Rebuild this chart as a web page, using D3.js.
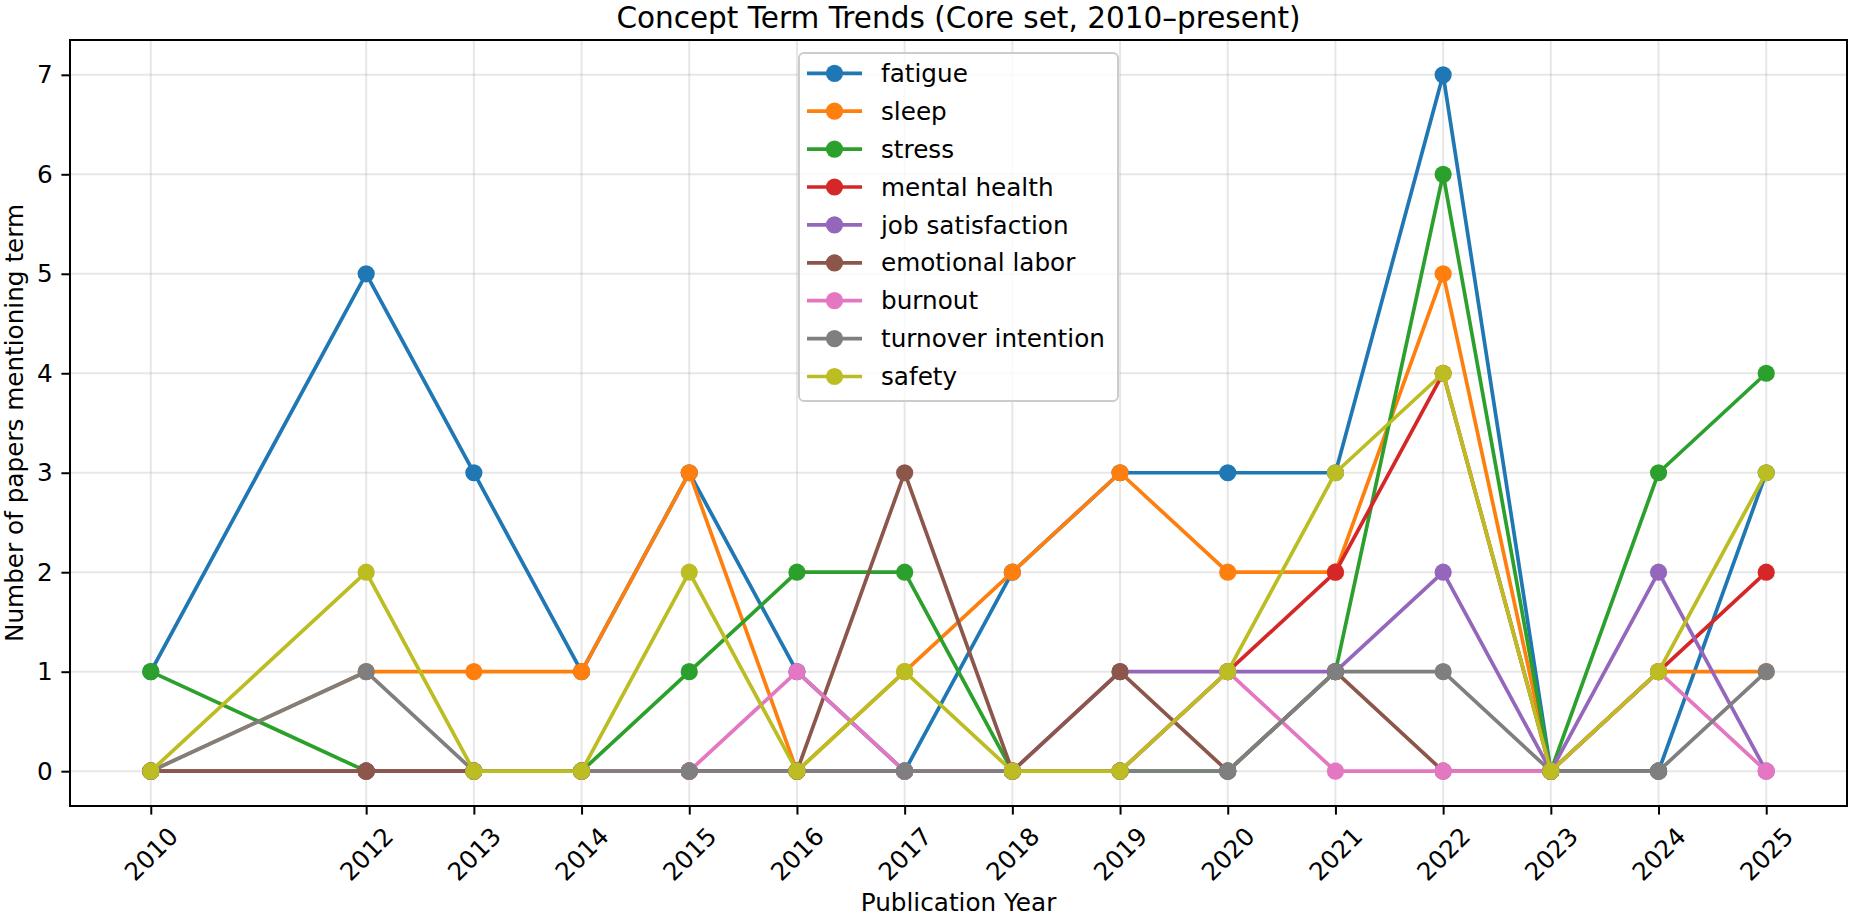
<!DOCTYPE html>
<html>
<head>
<meta charset="utf-8">
<script src="https://cdn.jsdelivr.net/npm/d3@7/dist/d3.min.js"></script>
<style>
  html, body { margin: 0; padding: 0; background: #fff; }
  svg { display: block; font-family: "DejaVu Sans", sans-serif; }
</style>
</head>
<body>
<svg id="chart" width="1851" height="918"></svg>
<script>
// ---- Data ----
const years = [2010, 2012, 2013, 2014, 2015, 2016, 2017, 2018, 2019, 2020, 2021, 2022, 2023, 2024, 2025];
const yTicks = [0, 1, 2, 3, 4, 5, 6, 7];
const seriesNames = ["fatigue", "sleep", "stress", "mental health", "job satisfaction", "emotional labor", "burnout", "turnover intention", "safety"];
const fatigue         = [1, 5, 3, 1, 3, 1, 0, 2, 3, 3, 3, 7, 0, 0, 3];
const sleep           = [0, 1, 1, 1, 3, 0, 1, 2, 3, 2, 2, 5, 0, 1, 1];
const stress          = [1, 0, 0, 0, 1, 2, 2, 0, 0, 0, 1, 6, 0, 3, 4];
const mentalHealth    = [0, 0, 0, 0, 0, 0, 0, 0, 0, 1, 2, 4, 0, 1, 2];
const jobSatisfaction = [0, 0, 0, 0, 0, 0, 0, 0, 1, 1, 1, 2, 0, 2, 0];
const emotionalLabor  = [0, 0, 0, 0, 0, 0, 3, 0, 1, 0, 1, 0, 0, 0, null];
const burnout         = [null, null, 0, 0, 0, 1, 0, 0, 0, 1, 0, 0, 0, 1, 0];
const turnover        = [0, 1, 0, 0, 0, 0, 0, 0, 0, 0, 1, 1, 0, 0, 1];
const safety          = [0, 2, 0, 0, 2, 0, 1, 0, 0, 1, 3, 4, 0, 1, 3];
const seriesValues = [fatigue, sleep, stress, mentalHealth, jobSatisfaction, emotionalLabor, burnout, turnover, safety];
const colors = ["#1f77b4", "#ff7f0e", "#2ca02c", "#d62728", "#9467bd", "#8c564b", "#e377c2", "#7f7f7f", "#bcbd22"];

const title = "Concept Term Trends (Core set, 2010\u2013present)";
const xLabel = "Publication Year";
const yLabel = "Number of papers mentioning term";

// ---- Layout ----
const svg = d3.select("#chart");
const L = 70, R = 1847, T = 40, B = 806;
const fs = 24.7;
const tickLen = 8.6, tickPad = 8.6;

const x = d3.scaleLinear().domain([2009.25, 2025.75]).range([L, R]);
const y = d3.scaleLinear().domain([-0.35, 7.35]).range([B, T]);

// grid
const grid = svg.append("g");
grid.selectAll("line.gx").data(years).enter().append("line")
  .attr("x1", d => x(d)).attr("x2", d => x(d)).attr("y1", T).attr("y2", B)
  .attr("stroke", "#b0b0b0").attr("stroke-opacity", 0.3).attr("stroke-width", 2);
grid.selectAll("line.gy").data(yTicks).enter().append("line")
  .attr("x1", L).attr("x2", R).attr("y1", d => y(d)).attr("y2", d => y(d))
  .attr("stroke", "#b0b0b0").attr("stroke-opacity", 0.3).attr("stroke-width", 2);

// series
svg.append("defs").append("clipPath").attr("id", "clip")
  .append("rect").attr("x", L).attr("y", T).attr("width", R - L).attr("height", B - T);
const plot = svg.append("g").attr("clip-path", "url(#clip)");
const line = d3.line().defined(d => d.v !== null).x(d => x(d.year)).y(d => y(d.v));
seriesValues.forEach((vals, i) => {
  const pts = years.map((yr, j) => ({ year: yr, v: vals[j] }));
  plot.append("path").datum(pts).attr("d", line)
    .attr("fill", "none").attr("stroke", colors[i]).attr("stroke-width", 3.7)
    .attr("stroke-linejoin", "round").attr("stroke-linecap", "square");
  plot.selectAll(null).data(pts.filter(p => p.v !== null)).enter().append("circle")
    .attr("cx", d => x(d.year)).attr("cy", d => y(d.v)).attr("r", 8.6)
    .attr("fill", colors[i]);
});

// axes
const xAxis = d3.axisBottom(x).tickValues(years).tickFormat(d3.format("d"))
  .tickSize(tickLen).tickPadding(tickPad);
const gx = svg.append("g").attr("transform", `translate(0,${B})`).call(xAxis);
gx.select(".domain").remove();
gx.selectAll(".tick line").attr("stroke", "#000").attr("stroke-width", 2);
gx.selectAll(".tick text").attr("font-size", fs).attr("fill", "#000")
  .attr("font-family", "DejaVu Sans")
  .each(function() {
    const t = d3.select(this);
    const w = this.getComputedTextLength();
    const h = fs * 1.0;
    const bb = (w + h) / Math.SQRT2;
    t.attr("y", null).attr("dy", null)
      .attr("text-anchor", "middle").attr("dominant-baseline", "central")
      .attr("transform", `translate(0,${tickLen + tickPad + bb / 2}) rotate(-45)`);
  });

const yAxis = d3.axisLeft(y).tickValues(yTicks).tickFormat(d3.format("d"))
  .tickSize(tickLen).tickPadding(tickPad);
const gy = svg.append("g").attr("transform", `translate(${L},0)`).call(yAxis);
gy.select(".domain").remove();
gy.selectAll(".tick line").attr("stroke", "#000").attr("stroke-width", 2);
gy.selectAll(".tick text").attr("font-size", fs).attr("fill", "#000")
  .attr("font-family", "DejaVu Sans");

// frame
svg.append("rect").attr("x", L).attr("y", T).attr("width", R - L).attr("height", B - T)
  .attr("fill", "none").attr("stroke", "#000").attr("stroke-width", 2);

// labels
svg.append("text").attr("x", (L + R) / 2).attr("y", 28).attr("text-anchor", "middle")
  .attr("font-size", 29.5).text(title);
svg.append("text").attr("x", (L + R) / 2).attr("y", 911).attr("text-anchor", "middle")
  .attr("font-size", fs).text(xLabel);
svg.append("text").attr("transform", `translate(23,${(T + B) / 2}) rotate(-90)`)
  .attr("text-anchor", "middle").attr("font-size", fs).text(yLabel);

// legend
const lg = svg.append("g");
lg.append("rect").attr("x", 799).attr("y", 53).attr("width", 319).attr("height", 348)
  .attr("rx", 5).attr("fill", "#fff").attr("fill-opacity", 0.8)
  .attr("stroke", "#cccccc").attr("stroke-width", 2);
const rowH = 37.9, row0 = 73.3;
seriesNames.forEach((name, i) => {
  const cy = row0 + i * rowH;
  lg.append("line").attr("x1", 807).attr("x2", 862).attr("y1", cy).attr("y2", cy)
    .attr("stroke", colors[i]).attr("stroke-width", 3.7);
  lg.append("circle").attr("cx", 834.5).attr("cy", cy).attr("r", 8.6).attr("fill", colors[i]);
  lg.append("text").attr("x", 881).attr("y", cy + 8.6).attr("font-size", fs).text(name);
});
</script>
</body>
</html>
